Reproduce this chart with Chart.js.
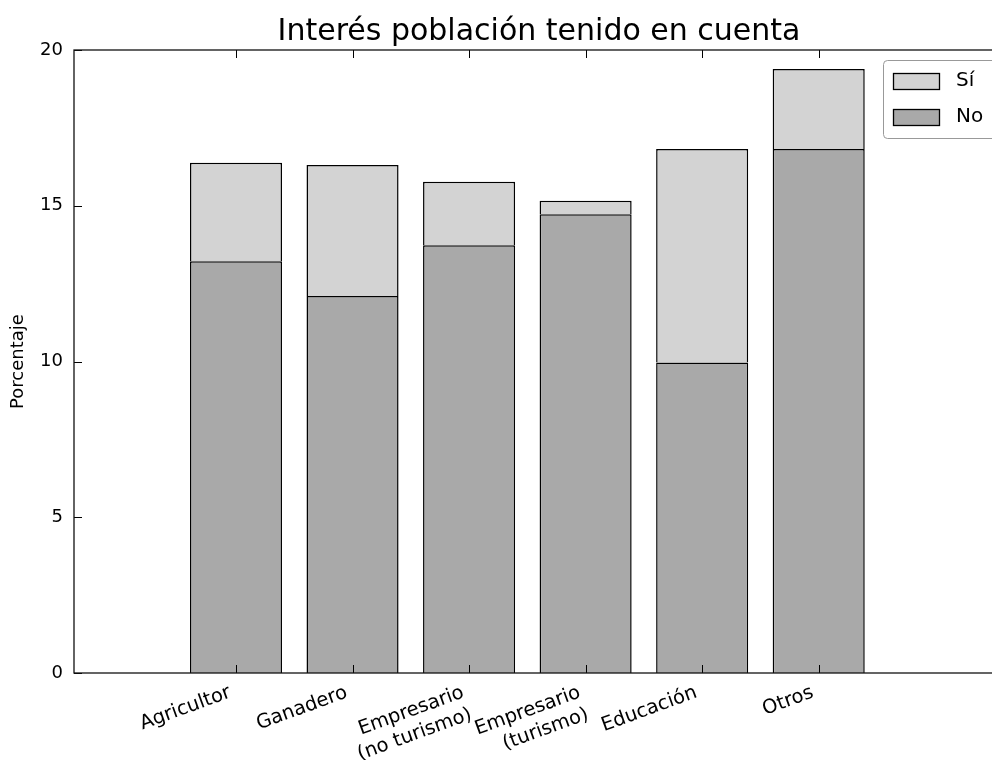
<!DOCTYPE html>
<html>
<head>
<meta charset="utf-8">
<script src="https://cdn.jsdelivr.net/npm/chart.js@4.4.1/dist/chart.umd.min.js"></script>
<style>
  html, body { margin: 0; padding: 0; background: #fff; overflow: hidden; }
  #wrap { width: 992px; height: 760px; overflow: hidden; }
</style>
</head>
<body>
<div id="wrap"><canvas id="chart" width="1010" height="760"></canvas></div>
<script>
// data
const categories = [['Agricultor'], ['Ganadero'], ['Empresario', '(no turismo)'], ['Empresario', '(turismo)'], ['Educación'], ['Otros']];
const positions = [0, 1, 2, 3, 4, 5];
const noValues = [13.22, 12.10, 13.73, 14.73, 9.97, 16.82];
const siValues = [3.16, 4.21, 2.04, 0.43, 6.85, 2.57];
const yTicks = [0, 5, 10, 15, 20];

const FONT = "'DejaVu Sans', sans-serif";
const TITLE = 'Interés población tenido en cuenta';

// title centred over the axes, like matplotlib does
const axesTitle = {
  id: 'axesTitle',
  afterDraw(chart) {
    const { ctx, chartArea: a } = chart;
    ctx.save();
    ctx.fillStyle = '#000';
    ctx.font = '30px ' + FONT;
    ctx.textAlign = 'center';
    ctx.textBaseline = 'alphabetic';
    ctx.fillText(TITLE, (a.left + a.right) / 2, a.top - 10);
    ctx.restore();
  }
};

// matplotlib-like frame with inward tick marks
const framePlugin = {
  id: 'frame',
  afterDatasetsDraw(chart) {
    const { ctx, chartArea: a, scales } = chart;
    const x = scales.x, y = scales.y;
    ctx.save();
    ctx.strokeStyle = '#000';
    ctx.lineWidth = 1;
    ctx.beginPath();
    x.ticks.forEach(t => {
      const px = Math.round(x.getPixelForValue(t.value)) + 0.5;
      ctx.moveTo(px, a.bottom); ctx.lineTo(px, a.bottom - 8);
      ctx.moveTo(px, a.top); ctx.lineTo(px, a.top + 8);
    });
    y.ticks.forEach(t => {
      const py = Math.round(y.getPixelForValue(t.value)) + 0.5;
      ctx.moveTo(a.left, py); ctx.lineTo(a.left + 8, py);
      ctx.moveTo(a.right, py); ctx.lineTo(a.right - 8, py);
    });
    ctx.stroke();
    ctx.lineWidth = 1.3;
    ctx.strokeStyle = '#111';
    ctx.strokeRect(a.left, a.top, a.right - a.left, a.bottom - a.top);
    ctx.restore();
  }
};

// boxed legend in the upper right corner, Sí above No
const boxLegend = {
  id: 'boxLegend',
  afterDraw(chart) {
    const { ctx, chartArea: a } = chart;
    const x0 = a.right - 121, y0 = a.top + 10;
    ctx.save();
    ctx.beginPath();
    ctx.roundRect(x0 + 0.5, y0 + 0.5, 140, 78, 4);
    ctx.fillStyle = '#fff';
    ctx.fill();
    ctx.strokeStyle = '#999';
    ctx.lineWidth = 1;
    ctx.stroke();
    const items = chart.data.datasets.slice().reverse();
    items.forEach((ds, i) => {
      const sy = y0 + 13 + i * 36;
      ctx.fillStyle = ds.backgroundColor;
      ctx.fillRect(x0 + 10, sy, 46, 16);
      ctx.strokeStyle = '#000';
      ctx.lineWidth = 1.3;
      ctx.strokeRect(x0 + 10.5, sy + 0.5, 46, 16);
      ctx.fillStyle = '#000';
      ctx.font = '20px ' + FONT;
      ctx.textBaseline = 'middle';
      ctx.fillText(ds.label, x0 + 73, sy + 8);
    });
    ctx.restore();
  }
};

new Chart(document.getElementById('chart'), {
  type: 'bar',
  data: {
    datasets: [{
      label: 'No',
      data: positions.map((p, i) => ({ x: p, y: noValues[i] })),
      backgroundColor: '#a9a9a9',
      borderColor: '#000',
      borderWidth: 1.5
    }, {
      label: 'Sí',
      data: positions.map((p, i) => ({ x: p, y: siValues[i] })),
      backgroundColor: '#d3d3d3',
      borderColor: '#000',
      borderWidth: 1.5
    }]
  },
  options: {
    responsive: false,
    animation: false,
    barPercentage: 0.79,
    categoryPercentage: 1,
    layout: { padding: { top: 50, right: 6, left: 0, bottom: 0 } },
    plugins: {
      legend: { display: false },
      tooltip: { enabled: false },
      title: { display: false }
    },
    scales: {
      x: {
        type: 'linear',
        stacked: true,
        offset: false,
        min: -1.39,
        max: 6.59,
        afterFit(scale) { scale.height = 87; },
        afterBuildTicks(scale) { scale.ticks = positions.map(v => ({ value: v })); },
        grid: { display: false, drawTicks: false, offset: false },
        border: { display: false },
        ticks: {
          autoSkip: false,
          minRotation: 20,
          maxRotation: 20,
          padding: 6,
          color: '#000',
          font: { family: FONT, size: 19.5 },
          // trailing space nudges the rotated label left of its tick, as in the reference
          callback: (v) => categories[v].map(s => s + ' ')
        }
      },
      y: {
        stacked: true,
        min: 0,
        max: 20,
        afterFit(scale) { scale.width = 74; },
        afterBuildTicks(scale) { scale.ticks = yTicks.map(v => ({ value: v })); },
        grid: { display: false, drawTicks: false },
        border: { display: false },
        ticks: {
          padding: 11,
          color: '#000',
          font: { family: FONT, size: 18 }
        },
        title: {
          display: true,
          text: 'Porcentaje',
          color: '#000',
          font: { family: FONT, size: 18 },
          padding: { top: 8, bottom: 0 }
        }
      }
    }
  },
  plugins: [framePlugin, boxLegend, axesTitle]
});
</script>
</body>
</html>
